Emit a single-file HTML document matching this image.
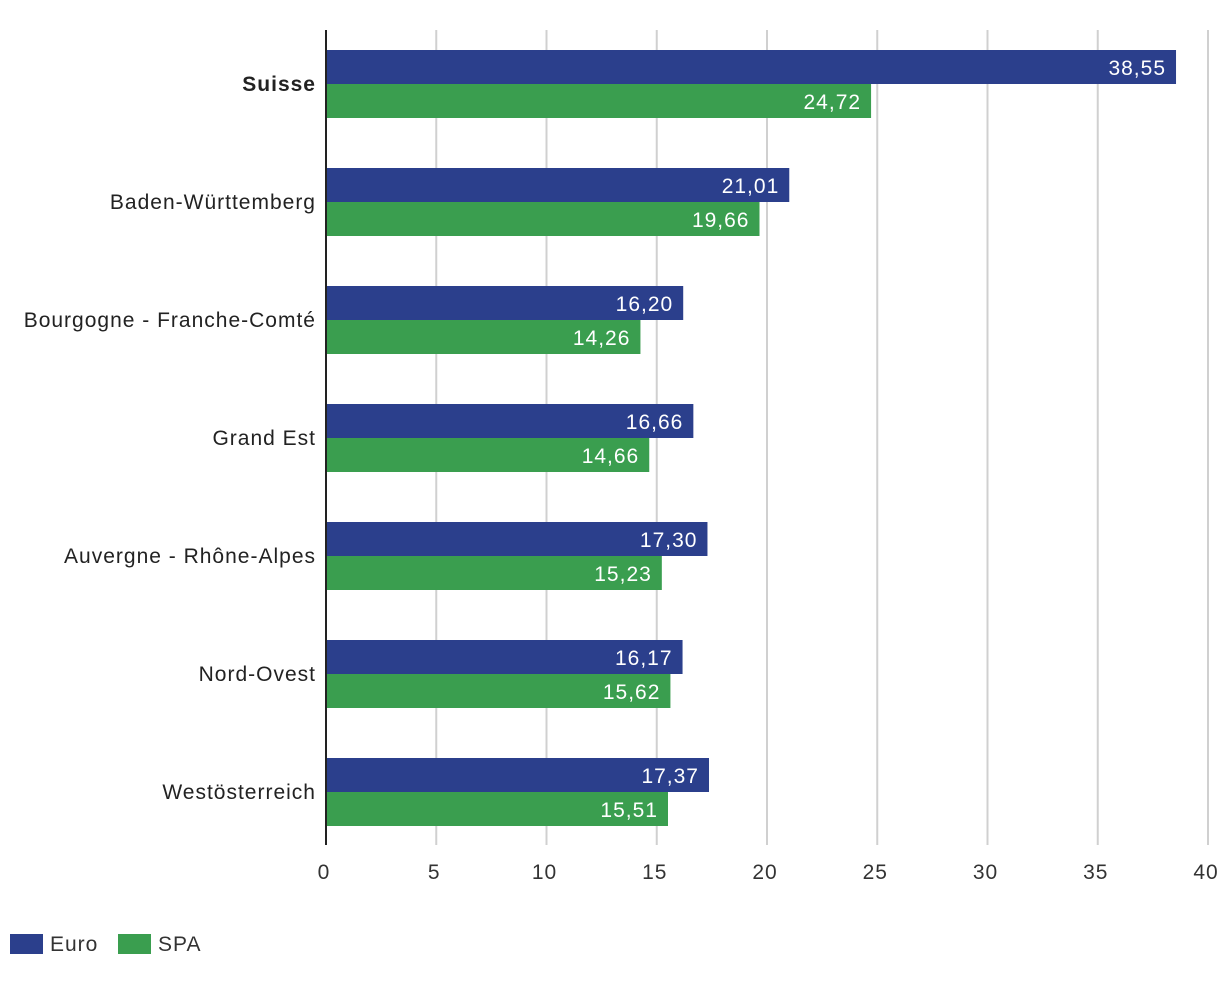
<!DOCTYPE html>
<html><head><meta charset="utf-8"><style>
body{margin:0;background:#fff;width:1220px;height:976px;overflow:hidden;font-family:"Liberation Sans",sans-serif}
svg text{font-family:"Liberation Sans",sans-serif;letter-spacing:1px}
</style></head><body>
<svg id="chart" width="1220" height="976" xmlns="http://www.w3.org/2000/svg"></svg>
<script>
const categories=["Suisse","Baden-Württemberg","Bourgogne - Franche-Comté","Grand Est","Auvergne - Rhône-Alpes","Nord-Ovest","Westösterreich"];
const euroValues=[38.55,21.01,16.20,16.66,17.30,16.17,17.37];
const spaValues=[24.72,19.66,14.26,14.66,15.23,15.62,15.51];
const xTicks=[0,5,10,15,20,25,30,35,40];
const seriesNames=["Euro","SPA"];
const colors=["#2b3f8c","#3a9e4f"];
const svg=document.getElementById('chart');
const NS="http://www.w3.org/2000/svg";
const x0=326,pxPerUnit=22.05,top0=50,groupH=118,barH=34;
const xs=v=>x0+v*pxPerUnit;
function mk(tag,attrs,parent){const e=document.createElementNS(NS,tag);for(const k in attrs)e.setAttribute(k,attrs[k]);(parent||svg).appendChild(e);return e;}
const fmt=v=>v.toFixed(2).replace('.',',');
xTicks.forEach(t=>{
  if(t>0){const g=mk('line',{x1:xs(t),x2:xs(t),y1:30,y2:845,stroke:'#d0d0d0','stroke-width':2});
  
  }
  const tl=mk('text',{x:xs(t)-2,y:879,'text-anchor':'middle','font-size':21,fill:'#333'});tl.textContent=t;
  
  
});
categories.forEach((c,i)=>{
  const y=top0+i*groupH;
  [euroValues[i],spaValues[i]].forEach((v,s)=>{
    const r=mk('rect',{x:x0,y:y+s*barH,width:xs(v)-x0,height:barH,fill:colors[s]});
    
    
    const t=mk('text',{x:xs(v)-10,y:y+s*barH+25,'text-anchor':'end','font-size':21,fill:'#fff'});t.textContent=fmt(v);
    
    
  });
  const l=mk('text',{x:316,y:y+barH+7,'text-anchor':'end','font-size':21,fill:'#222','font-weight':i===0?'bold':'normal'});l.textContent=c;
  
  
});
const ax=mk('line',{x1:x0,x2:x0,y1:30,y2:845,stroke:'#222','stroke-width':2});


const lx=[10,118];
seriesNames.forEach((n,s)=>{
  const r=mk('rect',{x:lx[s],y:934,width:33,height:20,fill:colors[s]});
  
  
  const t=mk('text',{x:lx[s]+40,y:951,'font-size':21,fill:'#333'});t.textContent=n;
  
  
});
</script>
</body></html>
